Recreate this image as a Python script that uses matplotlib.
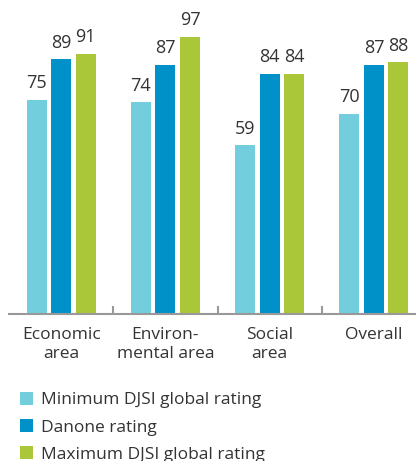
import numpy as np
import matplotlib.pyplot as plt
from matplotlib.patches import Patch

plt.rcParams['font.family'] = ['Open Sans', 'DejaVu Sans']

categories = ["Economic\narea", "Environ-\nmental area", "Social\narea", "Overall"]
min_rating = [75, 74, 59, 70]
danone_rating = [89, 87, 84, 87]
max_rating = [91, 97, 84, 88]

series = [
    ("Minimum DJSI global rating", min_rating, "#72CDDC"),
    ("Danone rating", danone_rating, "#0091C8"),
    ("Maximum DJSI global rating", max_rating, "#AAC73A"),
]

W, H = 416, 461
fig = plt.figure(figsize=(W / 100, H / 100), dpi=100)
ax = fig.add_axes([9 / W, (H - 314) / H, 1 - 9 / W, 314 / H])

x = np.arange(len(categories))
width = 0.192
step = 0.236
text_color = "#333333"

for i, (name, vals, color) in enumerate(series):
    pos = x + (i - 1) * step
    ax.bar(pos, vals, width=width, color=color)
    for p, v in zip(pos, vals):
        ax.text(p, v + 2.7, str(v), ha="center", va="bottom",
                fontsize=13, color=text_color)

ax.set_xlim(-0.5, 3.404)
ax.set_ylim(0, 109.8)
for side in ["left", "right", "top"]:
    ax.spines[side].set_visible(False)
ax.spines["bottom"].set_color("#999999")
ax.spines["bottom"].set_linewidth(1.5)
ax.set_yticks([])

# group separators drawn as short upward ticks
ax.set_xticks(x[:-1] + 0.5)
ax.set_xticklabels([])
ax.tick_params(axis="x", direction="in", length=6, width=1.5, color="#999999")

for xi, label in zip(x, categories):
    ax.text(xi, -4.4, label, ha="center", va="top", fontsize=12.5,
            color=text_color, linespacing=1.25)

handles = [Patch(facecolor=c, edgecolor="none") for _, _, c in series]
fig.legend(handles, [s[0] for s in series], loc="upper left",
           bbox_to_anchor=(20 / W, 1 - 392 / H), frameon=False,
           fontsize=12.5, labelcolor=text_color, handlelength=0.75,
           handleheight=0.75, handletextpad=0.45, labelspacing=0.62,
           borderaxespad=0, borderpad=0)

fig.savefig("out.png", dpi=100)
